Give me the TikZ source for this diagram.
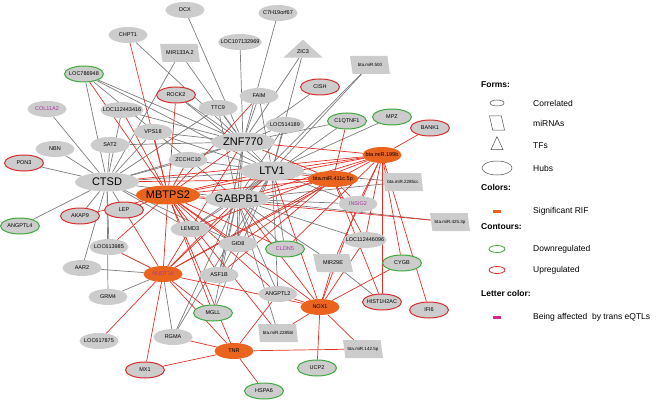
\documentclass[tikz,border=0pt]{standalone}
\usepackage{fontspec}
\setmainfont{Liberation Sans}
\usetikzlibrary{shapes.geometric,positioning,backgrounds}
\definecolor{nodegray}{RGB}{204,204,204}
\definecolor{riforange}{RGB}{234,100,30}
\definecolor{downgreen}{RGB}{60,170,60}
\definecolor{upred}{RGB}{215,45,45}
\definecolor{edgered}{RGB}{228,48,38}
\definecolor{edgegray}{RGB}{125,125,125}
\definecolor{eqtltext}{RGB}{165,55,160}
\definecolor{eqtlbar}{RGB}{210,40,140}

\begin{document}
\begin{tikzpicture}
[x=1pt, y=-1pt,
% STYLES
every node/.style={inner sep=0pt},
% The gene style is used to draw the correlated genes
gene/.style={ellipse, fill=nodegray, minimum width=39pt, minimum height=16pt, inner xsep=-4pt, font=\fontsize{5.5}{6}\selectfont},
% The hub style is used to draw the hub genes
hub/.style={ellipse, fill=nodegray, minimum width=64pt, minimum height=19pt, font=\fontsize{11}{12}\selectfont},
% The mirna style is used to draw the miRNAs
mirna/.style={trapezium, trapezium left angle=110, trapezium right angle=70, trapezium stretches=true, fill=nodegray, minimum width=40pt, minimum height=18pt, inner xsep=-4pt, font=\fontsize{4.5}{5}\selectfont},
% The tf style is used to draw the transcription factors
tf/.style={isosceles triangle, isosceles triangle apex angle=95, shape border rotate=90, fill=nodegray, minimum height=18pt, font=\fontsize{5.5}{6}\selectfont},
% Colours and contours
rif/.style={fill=riforange},
down/.style={draw=downgreen, line width=1pt},
up/.style={draw=upred, line width=1pt},
eqtl/.style={text=eqtltext},
% Links
corlink/.style={draw=edgegray, line width=0.7pt},
riflink/.style={draw=edgered, line width=0.7pt},
% Legend
head/.style={anchor=west, font=\bfseries\fontsize{8.5}{10}\selectfont},
legtext/.style={font=\fontsize{8.5}{10}\selectfont},
legicon/.style={draw=black!70, line width=0.5pt}]

\useasboundingbox (0,0) rectangle (658,401);

% Draw hubs
\node [hub] (ctsd) at (107,182) {CTSD};
\node [hub] (znf770) at (243,142) {ZNF770};
\node [hub] (ltv1) at (272,171) {LTV1};
\node [hub] (gabpb1) at (237,199) {GABPB1};
\node [hub, rif] (mbtps2) at (168,195) {MBTPS2};

% Draw genes
\node [gene] (dcx) at (185,10) {DCX};
\node [gene] (chpt1) at (128,35) {CHPT1};
\node [gene] (loc107) at (240,42) {LOC107132969};
\node [gene] (c7h) at (278,13) {C7H19orf67};
\node [gene] (faim) at (259,96) {FAIM};
\node [gene] (ttc9) at (218,108) {TTC9};
\node [gene] (loc443) at (122,110) {LOC112443416};
\node [gene, eqtl] (col11a2) at (47,109) {COL11A2};
\node [gene] (vps18) at (153,132) {VPS18};
\node [gene] (loc514) at (285,125) {LOC514189};
\node [gene] (nbn) at (55,149) {NBN};
\node [gene] (sat2) at (110,145) {SAT2};
\node [gene] (zcchc10) at (188,160) {ZCCHC10};
\node [gene] (lemd3) at (190,229) {LEMD3};
\node [gene] (loc613) at (109,247) {LOC613985};
\node [gene] (gid8) at (238,244) {GID8};
\node [gene, eqtl] (insig2) at (358,204) {INSIG2};
\node [gene] (loc096) at (365,240) {LOC112446096};
\node [gene] (aar2) at (82,268) {AAR2};
\node [gene] (asf1b) at (219,275) {ASF1B};
\node [gene] (grm4) at (108,297) {GRM4};
\node [gene] (angptl2) at (278,294) {ANGPTL2};
\node [gene] (rgma) at (173,337) {RGMA};
\node [gene] (loc617) at (99,341) {LOC617875};

% downregulated
\node [gene, down] (loc786) at (84,74) {LOC786948};
\node [gene, down] (c1qtnf1) at (347,121) {C1QTNF1};
\node [gene, down] (mpz) at (392,117) {MPZ};
\node [gene, down] (angptl4) at (20,226) {ANGPTL4};
\node [gene, down, eqtl] (cldn5) at (285,249) {CLDN5};
\node [gene, down] (cygb) at (402,263) {CYGB};
\node [gene, down] (mgll) at (213,313) {MGLL};
\node [gene, down] (ucp2) at (317,368) {UCP2};
\node [gene, down] (hspa6) at (264,391) {HSPA6};

% upregulated
\node [gene, up] (rock2) at (176,95) {ROCK2};
\node [gene, up] (cish) at (320,87) {CISH};
\node [gene, up] (bank1) at (430,128) {BANK1};
\node [gene, up] (pon3) at (24,163) {PON3};
\node [gene, up] (akap9) at (80,216) {AKAP9};
\node [gene, up] (lep) at (124,210) {LEP};
\node [gene, up] (hist) at (382,302) {HIST1H2AC};
\node [gene, up] (ifi6) at (429,310) {IFI6};
\node [gene, up] (mx1) at (145,370) {MX1};

% significant RIF
\node [gene, rif, eqtl] (nudt16) at (163,274) {NUDT16};
\node [gene, rif] (nox1) at (320,307) {NOX1};
\node [gene, rif] (tnr) at (234,351) {TNR};
\node [gene, rif] (mir199b) at (382,155) {bta.miR.199b};
\node [gene, rif, minimum width=50pt] (mir411) at (333,179) {bta.miR.411c.5p};

% miRNAs and TFs
\node [mirna, font=\fontsize{5.5}{6}\selectfont] (mir133) at (180,53) {MIR133A.2};
\node [mirna] (mir500) at (370,65) {bta.miR.500};
\node [mirna] (mir2285cc) at (403,182) {bta.miR.2285cc};
\node [mirna] (mir425) at (450,222) {bta.miR.425.3p};
\node [mirna, font=\fontsize{5.5}{6}\selectfont] (mir29e) at (333,263) {MIR29E};
\node [mirna] (mir2285bl) at (278,333) {bta.miR.2285bl};
\node [mirna] (mir142) at (363,349) {bta.miR.142.5p};
\node [tf] (zic3) at (303,52) {ZIC3};

%%%%%%%%%%%%%%%
% Draw the links between genes
\begin{scope}[on background layer]
\path[corlink]
(dcx) edge (znf770)
(chpt1) edge (znf770)
(mir133) edge (znf770)
(mir133) edge (ctsd)
(loc107) edge (znf770)
(c7h) edge (znf770)
(zic3) edge (znf770)
(zic3) edge (ltv1)
(mir500) edge (ltv1)
(mir500) edge (gabpb1)
(cish) edge (znf770)
(faim) edge (znf770)
(faim) edge (ltv1)
(loc786) edge (znf770)
(loc786) edge (ltv1)
(loc786) edge (gabpb1)
(loc786) edge (ctsd)
(rock2) edge (znf770)
(rock2) edge (ltv1)
(ttc9) edge (znf770)
(ttc9) edge (ctsd)
(ttc9) edge (gabpb1)
(loc443) edge (znf770)
(loc443) edge (ctsd)
(col11a2) edge (ctsd)
(vps18) edge (znf770)
(vps18) edge (ctsd)
(vps18) edge (ltv1)
(sat2) edge (ctsd)
(sat2) edge (znf770)
(nbn) edge (ctsd)
(pon3) edge (ctsd)
(angptl4) edge (ctsd)
(akap9) edge (ctsd)
(lep) edge (ctsd)
(zcchc10) edge (ctsd)
(zcchc10) edge (znf770)
(zcchc10) edge (ltv1)
(loc514) edge (znf770)
(loc514) edge (ltv1)
(loc514) edge (gabpb1)
(c1qtnf1) edge (znf770)
(c1qtnf1) edge (gabpb1)
(mpz) edge (ltv1)
(mir2285cc) edge (ltv1)
(mir2285cc) edge (gabpb1)
(mir425) edge (gabpb1)
(insig2) edge (gabpb1)
(insig2) edge (ltv1)
(loc096) edge (gabpb1)
(mir29e) edge (hist)
(mir29e) edge (gabpb1)
(cldn5) edge (gabpb1)
(cldn5) edge (ltv1)
(gid8) edge (gabpb1)
(gid8) edge (znf770)
(gid8) edge (ctsd)
(lemd3) edge (gabpb1)
(lemd3) edge (ctsd)
(lemd3) edge (ltv1)
(loc613) edge (ctsd)
(aar2) edge (ctsd)
(aar2) edge (nudt16)
(grm4) edge (nudt16)
(grm4) edge (ctsd)
(asf1b) edge (gabpb1)
(asf1b) edge (ltv1)
(asf1b) edge (znf770)
(mgll) edge (gabpb1)
(mgll) edge (ltv1)
(angptl2) edge (gabpb1)
(angptl2) edge (ltv1)
(mir2285bl) edge (gabpb1)
(rgma) edge (gabpb1)
(rgma) edge (ltv1)
(rgma) edge (nudt16)
(ctsd) edge (znf770)
(ctsd) edge (gabpb1)
(ctsd) edge (ltv1)
(znf770) edge (ltv1)
(znf770) edge (gabpb1)
(ltv1) edge (gabpb1);

\path[riflink]
(chpt1) edge (mbtps2)
(faim) edge (mbtps2)
(loc786) edge (mbtps2)
(rock2) edge (mbtps2)
(loc443) edge (mbtps2)
(vps18) edge (mbtps2)
(akap9) edge (mbtps2)
(lep) edge (mbtps2)
(lep) edge (nudt16)
(zcchc10) edge (mbtps2)
(loc613) edge (nudt16)
(loc613) edge (mbtps2)
(lemd3) edge (mbtps2)
(gid8) edge (mbtps2)
(asf1b) edge (mbtps2)
(mgll) edge (nudt16)
(mgll) edge (mbtps2)
(cldn5) edge (mbtps2)
(angptl2) edge (mbtps2)
(mbtps2) edge (gabpb1)
(mbtps2) edge (znf770)
(mbtps2) edge (ltv1)
(mbtps2) edge (nudt16)
(bank1) edge (mir199b)
(mir199b) edge (znf770)
(mir199b) edge (ltv1)
(mir199b) edge (gabpb1)
(mir199b) edge (mbtps2)
(mir199b) edge (ctsd)
(mir199b) edge (insig2)
(mir199b) edge (loc096)
(mir199b) edge (cygb)
(mir199b) edge (hist)
(mir199b) edge (ifi6)
(mir199b) edge (nudt16)
(mir199b) edge (cldn5)
(mir199b) edge (lemd3)
(mir199b) edge (mir29e)
(c1qtnf1) edge (mir411)
(mir411) edge (znf770)
(mir411) edge (ltv1)
(mir411) edge (gabpb1)
(mir411) edge (mbtps2)
(mir411) edge (ctsd)
(mir411) edge (nudt16)
(mir411) edge (insig2)
(mir411) edge (loc096)
(mir411) edge (gid8)
(mir411) edge (asf1b)
(mir411) edge (hist)
(mir425) edge (mbtps2)
(nox1) edge (mbtps2)
(nox1) edge (gabpb1)
(nox1) edge (ltv1)
(nox1) edge (nudt16)
(nox1) edge (angptl2)
(nox1) edge (mir2285bl)
(nox1) edge (mir142)
(nox1) edge (ucp2)
(nox1) edge (cygb)
(nox1) edge (insig2)
(nox1) edge (mir29e)
(nox1) edge (loc096)
(mir2285bl) edge (mbtps2)
(tnr) edge (rgma)
(tnr) edge (mx1)
(tnr) edge (hspa6)
(tnr) edge (mir142)
(tnr) edge (angptl2)
(tnr) edge (nudt16)
(tnr) edge (mbtps2)
(mx1) edge (nudt16)
(loc617) edge (nudt16)
(nudt16) edge (znf770)
(nudt16) edge (ltv1)
(nudt16) edge (gabpb1);
\end{scope}

%%%%%%%%%%%%%%%
% Legend
\node [head] (forms) at (481,85) {Forms:};
\node [legicon, ellipse, minimum width=14pt, minimum height=6pt] (leg-corr) at (497,103) {};
\node [legtext, right=36pt of leg-corr.center] {Correlated};
\node [legicon, trapezium, trapezium left angle=110, trapezium right angle=70, trapezium stretches=true, inner sep=1pt, minimum width=15pt, minimum height=14pt] (leg-mirna) at (497,123) {};
\node [legtext, right=36pt of leg-mirna.center] {miRNAs};
\node [legicon, isosceles triangle, isosceles triangle apex angle=50, shape border rotate=90, inner sep=1pt, minimum height=13pt] (leg-tf) at (497,146) {};
\node [legtext, right=36pt of leg-tf.center] {TFs};
\node [legicon, ellipse, minimum width=30pt, minimum height=14pt] (leg-hub) at (497,168) {};
\node [legtext, right=36pt of leg-hub.center] {Hubs};

\node [head] (colors) at (481,187) {Colors:};
\node [fill=riforange, minimum width=8pt, minimum height=3pt] (leg-rif) at (497,211) {};
\node [legtext, right=36pt of leg-rif.center] {Significant RIF};

\node [head] (contours) at (481,227) {Contours:};
\node [ellipse, draw=downgreen, line width=0.8pt, minimum width=16pt, minimum height=7pt] (leg-down) at (497,249) {};
\node [legtext, right=36pt of leg-down.center] {Downregulated};
\node [ellipse, draw=upred, line width=0.8pt, minimum width=16pt, minimum height=7pt] (leg-up) at (497,270) {};
\node [legtext, right=36pt of leg-up.center] {Upregulated};

\node [head] (letters) at (481,293) {Letter color:};
\node [fill=eqtlbar, minimum width=8pt, minimum height=3pt] (leg-eqtl) at (497,317) {};
\node [legtext, right=36pt of leg-eqtl.center] {Being affected\ \ by trans eQTLs};

\end{tikzpicture}
\end{document}
